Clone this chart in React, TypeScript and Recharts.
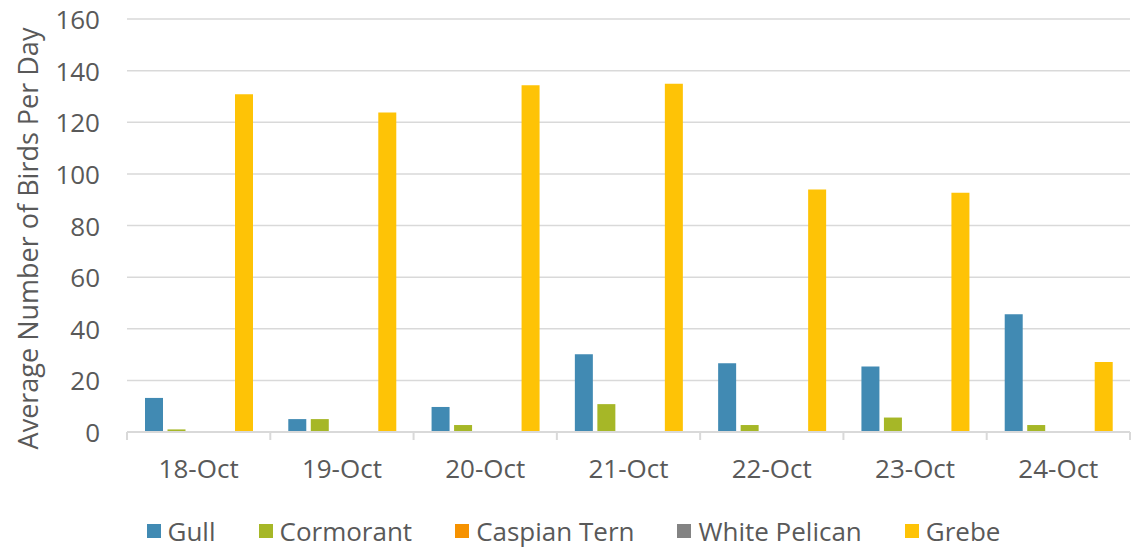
import React from 'react';
import { BarChart, Bar, XAxis, YAxis, CartesianGrid, Legend } from 'recharts';

const dates = ['18-Oct', '19-Oct', '20-Oct', '21-Oct', '22-Oct', '23-Oct', '24-Oct'];
const gull = [13.2, 5, 9.7, 30.1, 26.6, 25.4, 45.6];
const cormorant = [1, 5, 2.7, 10.8, 2.7, 5.6, 2.7];
const caspianTern = [0, 0, 0, 0, 0, 0, 0];
const whitePelican = [0, 0, 0, 0, 0, 0, 0];
const grebe = [130.8, 123.8, 134.3, 134.9, 93.9, 92.7, 27.1];
const yTicks = [0, 20, 40, 60, 80, 100, 120, 140, 160];

const series = [
  { key: 'Gull', values: gull, color: '#418AB3' },
  { key: 'Cormorant', values: cormorant, color: '#A6B727' },
  { key: 'Caspian Tern', values: caspianTern, color: '#F69200' },
  { key: 'White Pelican', values: whitePelican, color: '#838383' },
  { key: 'Grebe', values: grebe, color: '#FEC306' },
];

const data = dates.map((d, i) => {
  const row: Record<string, any> = { date: d };
  series.forEach((s) => {
    row[s.key] = s.values[i];
  });
  return row;
});

const FONT = '"Open Sans", sans-serif';
const TEXT = '#595959';
const GRID = '#d9d9d9';

const XTick = (props: any) => {
  const { x, payload, index, visibleTicksCount } = props;
  const half = payload && payload.offset ? payload.offset : 71.6;
  const isLast = index === (visibleTicksCount ? visibleTicksCount - 1 : dates.length - 1);
  return (
    <g>
      <line x1={x - half} x2={x - half} y1={432} y2={440} stroke={GRID} strokeWidth={2} />
      {isLast && <line x1={x + half} x2={x + half} y1={432} y2={440} stroke={GRID} strokeWidth={2} />}
      <text x={x} y={468} textAnchor="middle" dominantBaseline="central" fill={TEXT} fontSize={26} fontFamily={FONT}>
        {payload.value}
      </text>
    </g>
  );
};

const YTick = (props: any) => {
  const { x, y, payload } = props;
  return (
    <text x={x} y={y} textAnchor="end" dominantBaseline="central" fill={TEXT} fontSize={26} fontFamily={FONT}>
      {payload.value}
    </text>
  );
};

const YLabel = (props: any) => {
  const vb = props.viewBox || { y: 19, height: 413 };
  const cx = 27;
  const cy = vb.y + vb.height / 2 + 13;
  return (
    <text
      x={cx}
      y={cy}
      transform={`rotate(-90, ${cx}, ${cy})`}
      textAnchor="middle"
      dominantBaseline="central"
      fill={TEXT}
      fontSize={27}
      fontFamily={FONT}
    >
      Average Number of Birds Per Day
    </text>
  );
};

const LegendContent = () => {
  return (
    <div
      style={{
        width: 1131,
        height: 52,
        boxSizing: 'border-box',
        paddingTop: 10,
        paddingLeft: 16,
        display: 'flex',
        justifyContent: 'center',
        alignItems: 'center',
        gap: 43,
        fontFamily: FONT,
        fontSize: 26,
        color: TEXT,
      }}
    >
      {series.map((s) => (
        <div key={s.key} style={{ display: 'flex', alignItems: 'center' }}>
          <div style={{ width: 14, height: 14, background: s.color, marginRight: 7 }} />
          <span style={{ lineHeight: '30px' }}>{s.key}</span>
        </div>
      ))}
    </div>
  );
};

export default function App() {
  return (
    <div style={{ position: 'absolute', left: 0, top: 0, width: 1131, height: 552, background: '#fff' }}>
      <BarChart
        width={1131}
        height={552}
        data={data}
        margin={{ top: 19, right: 1, left: 0, bottom: 0 }}
        barCategoryGap={18}
        barGap={4.5}
      >
        <CartesianGrid vertical={false} stroke={GRID} strokeWidth={1.5} />
        <XAxis
          dataKey="date"
          height={68}
          tickLine={false}
          axisLine={{ stroke: GRID, strokeWidth: 2 }}
          tick={<XTick />}
          interval={0}
        />
        <YAxis
          width={127}
          domain={[0, 160]}
          ticks={yTicks}
          tickLine={false}
          axisLine={false}
          tickSize={0}
          tickMargin={27}
          tick={<YTick />}
          label={<YLabel />}
          interval={0}
        />
        <Legend verticalAlign="bottom" height={52} content={<LegendContent />} wrapperStyle={{ left: 0, width: 1131 }} />
        {series.map((s) => (
          <Bar key={s.key} dataKey={s.key} fill={s.color} isAnimationActive={false} />
        ))}
      </BarChart>
    </div>
  );
}
